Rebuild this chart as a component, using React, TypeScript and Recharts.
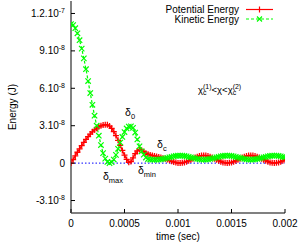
import React from 'react';
import { ComposedChart, Line, XAxis, YAxis, ReferenceLine, ReferenceDot, Legend } from 'recharts';

const FONT = '"Liberation Sans", Arial, Helvetica, sans-serif';

// time in microseconds
const timeUs = [
  0, 20, 40, 60, 80, 100, 120, 140, 160, 180,
  200, 220, 240, 260, 280, 300, 320, 340, 360, 380,
  400, 420, 440, 460, 480, 500, 520, 540, 560, 580,
  600, 620, 640, 660, 680, 700, 720, 740, 760, 780,
  800, 820, 840, 860, 880, 900, 920, 940, 960, 980,
  1000, 1020, 1040, 1060, 1080, 1100, 1120, 1140, 1160, 1180,
  1200, 1220, 1240, 1260, 1280, 1300, 1320, 1340, 1360, 1380,
  1400, 1420, 1440, 1460, 1480, 1500, 1520, 1540, 1560, 1580,
  1600, 1620, 1640, 1660, 1680, 1700, 1720, 1740, 1760, 1780,
  1800, 1820, 1840, 1860, 1880, 1900, 1920, 1940, 1960, 1980,
  2000,
];

// Potential energy in nJ (1e-9 J)
const potentialNJ = [
  0, 2.9, 5.8, 8.7, 11.4, 14.1, 16.7, 19.0, 21.2, 23.3,
  25.1, 26.7, 28.0, 29.1, 29.9, 30.5, 30.8, 30.7, 29.7, 27.9,
  25.3, 22.1, 18.3, 14.3, 10.2, 6.4, 3.0, 0.6, 1.2, 4.2,
  7.5, 9.8, 10.9, 10.4, 9.2, 8.0, 7.1, 6.5, 6.1, 5.7,
  5.3, 4.9, 4.5, 4.0, 3.5, 2.9, 2.2, 1.5, 0.9, 0.4,
  0.15, 0.1, 0.23, 0.58, 1.15, 1.88, 2.72, 3.58, 4.42, 5.15,
  5.72, 6.07, 6.2, 6.07, 5.72, 5.15, 4.42, 3.58, 2.72, 1.88,
  1.15, 0.58, 0.23, 0.1, 0.23, 0.58, 1.15, 1.88, 2.72, 3.58,
  4.42, 5.15, 5.72, 6.07, 6.2, 6.07, 5.72, 5.15, 4.42, 3.58,
  2.72, 1.88, 1.15, 0.58, 0.23, 0.1, 0.23, 0.58, 1.15, 1.88,
  2.72,
];

// Kinetic energy in nJ (1e-9 J)
const kineticNJ = [
  111.5, 110.7, 108.2, 104.1, 98.6, 91.8, 84.0, 75.3, 65.8, 56.2,
  46.8, 38.0, 30.0, 22.0, 14.5, 8.0, 3.6, 1.0, 0.0, 0.7,
  2.9, 6.6, 11.5, 16.5, 21.0, 24.9, 27.8, 29.3, 29.5, 28.3,
  24.5, 19.0, 13.5, 9.5, 6.8, 4.5, 3.3, 2.9, 2.8, 2.78,
  2.8, 2.87, 3.05, 3.35, 3.74, 4.17, 4.63, 5.06, 5.45, 5.75,
  5.93, 6.0, 5.93, 5.75, 5.45, 5.06, 4.63, 4.17, 3.74, 3.35,
  3.05, 2.87, 2.8, 2.87, 3.05, 3.35, 3.74, 4.17, 4.63, 5.06,
  5.45, 5.75, 5.93, 6.0, 5.93, 5.75, 5.45, 5.06, 4.63, 4.17,
  3.74, 3.35, 3.05, 2.87, 2.8, 2.87, 3.05, 3.35, 3.74, 4.17,
  4.63, 5.06, 5.45, 5.75, 5.93, 6.0, 5.93, 5.75, 5.45, 5.06,
  4.63,
];

const seriesNames = ['Potential Energy', 'Kinetic Energy'];
const xTicks = [0, 0.0005, 0.001, 0.0015, 0.002];
const xTickLabels = ['0', '0.0005', '0.001', '0.0015', '0.002'];
const yTicks = [-3e-8, 0, 3e-8, 6e-8, 9e-8, 1.2e-7];
const yTickBase = ['-3.10', '0', '3.10', '6.10', '9.10', '1.2.10'];
const yTickExp = ['-8', '', '-8', '-8', '-8', '-7'];

const data = timeUs.map((us, i) => ({
  t: us / 1e6,
  pe: potentialNJ[i] / 1e9,
  ke: kineticNJ[i] / 1e9,
}));

const RED = '#ff0000';
const GREEN = '#00ff00';

const findIdx = (arr: number[], v: number) => arr.findIndex((a) => Math.abs(a - v) < Math.abs(arr[arr.length - 1]) * 1e-6 + 1e-15);

const BottomTick = (p: any) => {
  const i = findIdx(xTicks, p.payload.value);
  return (
    <g>
      <line x1={p.x} x2={p.x} y1={p.y} y2={p.y - 4} stroke="#000" strokeWidth={1} />
      <text x={p.x} y={p.y + 13.5} textAnchor="middle" fontSize={10} fontFamily={FONT} fill="#000">
        {xTickLabels[i]}
      </text>
    </g>
  );
};

const TopTick = (p: any) => (
  <line x1={p.x} x2={p.x} y1={p.y} y2={p.y + 4} stroke="#000" strokeWidth={1} />
);

const LeftTick = (p: any) => {
  const i = findIdx(yTicks, p.payload.value);
  return (
    <g>
      <line x1={p.x} x2={p.x + 4} y1={p.y} y2={p.y} stroke="#000" strokeWidth={1} />
      <text x={p.x - 6} y={p.y} textAnchor="end" dominantBaseline="central" fontSize={10} fontFamily={FONT} fill="#000">
        {yTickBase[i]}
        {yTickExp[i] ? <tspan fontSize={7} dy={-3.5}>{yTickExp[i]}</tspan> : null}
      </text>
    </g>
  );
};

const RightTick = (p: any) => (
  <line x1={p.x} x2={p.x - 4} y1={p.y} y2={p.y} stroke="#000" strokeWidth={1} />
);

const PlusDot = (p: any) => {
  if (p.cx == null || p.cy == null) return <g key={`pd-${p.index}`} />;
  const s = 3;
  return (
    <path key={`pd-${p.index}`} d={`M${p.cx - s},${p.cy}H${p.cx + s}M${p.cx},${p.cy - s}V${p.cy + s}`} stroke={RED} strokeWidth={1.3} fill="none" />
  );
};

const CrossDot = (p: any) => {
  if (p.cx == null || p.cy == null) return <g key={`xd-${p.index}`} />;
  const s = 2.7;
  return (
    <path key={`xd-${p.index}`} d={`M${p.cx - s},${p.cy - s}L${p.cx + s},${p.cy + s}M${p.cx - s},${p.cy + s}L${p.cx + s},${p.cy - s}`} stroke={GREEN} strokeWidth={1.2} fill="none" />
  );
};

const LegendContent = () => (
  <svg width={300} height={28} style={{ display: 'block' }}>
    <text x={239} y={13} textAnchor="end" fontSize={10} fontFamily={FONT} fill="#000">{seriesNames[0]}</text>
    <line x1={246} x2={273} y1={9.5} y2={9.5} stroke={RED} strokeWidth={1.2} />
    <path d="M256.5,9.5H262.5M259.5,6.5V12.5" stroke={RED} strokeWidth={1.2} fill="none" />
    <text x={239} y={22.5} textAnchor="end" fontSize={10} fontFamily={FONT} fill="#000">{seriesNames[1]}</text>
    <line x1={246} x2={273} y1={19} y2={19} stroke={GREEN} strokeWidth={1.2} strokeDasharray="3 2" />
    <path d="M257,16.5L262,21.5M257,21.5L262,16.5" stroke={GREEN} strokeWidth={1.2} fill="none" />
  </svg>
);

type Anno = { t: number; e: number; sub: string };
const deltaLabels: Anno[] = [
  { t: 5.05e-4, e: 3.76e-8, sub: '0' },
  { t: 2.99e-4, e: -1.36e-8, sub: 'max' },
  { t: 6.26e-4, e: -8.8e-9, sub: 'min' },
  { t: 8.04e-4, e: 1.2e-8, sub: 'c' },
];

const DeltaText = (a: Anno) => (p: any) => (
  <text x={p.cx} y={p.cy} fontSize={10.5} fontFamily={FONT} fill="#000">
    δ<tspan fontSize={7.5} dy={2.5}>{a.sub}</tspan>
  </text>
);

const ChiText = (p: any) => (
  <text x={p.cx} y={p.cy} fontSize={9.5} fontFamily={FONT} fill="#000">
    χ<tspan fontSize={7} dy={2}>c</tspan>
    <tspan fontSize={7} dx={-3.5} dy={-6}>(1)</tspan>
    <tspan dy={4}>{'<χ<χ'}</tspan>
    <tspan fontSize={7} dy={2}>c</tspan>
    <tspan fontSize={7} dx={-3.5} dy={-6}>(2)</tspan>
  </text>
);

const YLabel = (props: any) => {
  const vb = props.viewBox || {};
  const cx = 12.5;
  const cy = (vb.y ?? 1) + (vb.height ?? 212) / 2;
  return (
    <text x={cx} y={cy} transform={`rotate(-90, ${cx}, ${cy})`} textAnchor="middle" dominantBaseline="central" fontSize={10} fontFamily={FONT} fill="#000">
      Energy (J)
    </text>
  );
};

export default function App() {
  return (
    <div style={{ position: 'absolute', left: 0, top: 0, width: 300, height: 245, background: '#fff' }}>
      <ComposedChart width={300} height={245} data={data} margin={{ top: 1, right: 15, bottom: 0, left: 8 }}>
        <XAxis
          dataKey="t"
          type="number"
          domain={[0, 0.002]}
          ticks={xTicks}
          interval={0}
          height={32}
          tickSize={0}
          tickMargin={0}
          tickLine={false}
          tick={BottomTick}
          axisLine={{ stroke: '#808080', strokeWidth: 2 }}
          allowDataOverflow
          label={{ value: 'time (sec)', position: 'insideBottom', offset: 5, fontSize: 10, fontFamily: FONT, fill: '#000' }}
        />
        <XAxis
          xAxisId="top"
          orientation="top"
          dataKey="t"
          type="number"
          domain={[0, 0.002]}
          ticks={xTicks}
          interval={0}
          height={0}
          tickSize={0}
          tickMargin={0}
          tickLine={false}
          tick={TopTick}
          axisLine={{ stroke: '#000', strokeWidth: 1 }}
          allowDataOverflow
        />
        <YAxis
          type="number"
          domain={[-4e-8, 1.3e-7]}
          ticks={yTicks}
          interval={0}
          width={63}
          tickSize={0}
          tickMargin={0}
          tickLine={false}
          tick={LeftTick}
          axisLine={{ stroke: '#808080', strokeWidth: 2 }}
          allowDataOverflow
          label={{ content: YLabel }}
        />
        <YAxis
          yAxisId="right"
          orientation="right"
          type="number"
          domain={[-4e-8, 1.3e-7]}
          ticks={yTicks}
          interval={0}
          width={0}
          tickSize={0}
          tickMargin={0}
          tickLine={false}
          tick={RightTick}
          axisLine={{ stroke: '#000', strokeWidth: 1 }}
          allowDataOverflow
        />
        <Legend
          content={LegendContent}
          layout="vertical"
          align="center"
          verticalAlign="middle"
          wrapperStyle={{ position: 'absolute', left: 0, top: 0, width: 300, height: 28, margin: 0, padding: 0 }}
        />
        <Line
          dataKey="pe"
          name={seriesNames[0]}
          type="linear"
          stroke={RED}
          strokeWidth={1.2}
          dot={PlusDot}
          activeDot={false}
          isAnimationActive={false}
        />
        <Line
          dataKey="ke"
          name={seriesNames[1]}
          type="linear"
          stroke={GREEN}
          strokeWidth={1.2}
          strokeDasharray="3 2"
          dot={CrossDot}
          activeDot={false}
          isAnimationActive={false}
        />
        <ReferenceLine y={0} stroke="#0000ff" strokeWidth={1} strokeDasharray="1.5 2" />
        {deltaLabels.map((a, i) => (
          <ReferenceDot key={i} x={a.t} y={a.e} r={0} isFront shape={DeltaText(a)} />
        ))}
        <ReferenceDot x={1.187e-3} y={5.6e-8} r={0} isFront shape={ChiText} />
      </ComposedChart>
    </div>
  );
}
